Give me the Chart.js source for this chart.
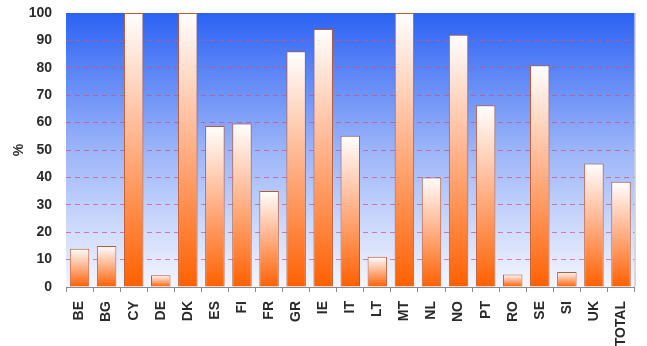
<!DOCTYPE html>
<html>
<head>
<meta charset="utf-8">
<script src="https://cdn.jsdelivr.net/npm/chart.js@4"></script>
<style>
  html, body { margin: 0; padding: 0; background: #fff; }
  #wrap { width: 647px; height: 346px; }
</style>
</head>
<body>
<div id="wrap"><canvas id="chart" width="647" height="346"></canvas></div>
<script>
var countries = ['BE', 'BG', 'CY', 'DE', 'DK', 'ES', 'FI', 'FR', 'GR', 'IE', 'IT',
                 'LT', 'MT', 'NL', 'NO', 'PT', 'RO', 'SE', 'SI', 'UK', 'TOTAL'];
var shares = [14, 15, 100, 4.3, 100, 58.8, 59.7, 35, 86, 94.2, 55.2,
              11, 100, 40, 92.1, 66.3, 4.6, 80.9, 5.5, 45.1, 38.4];
var yTicks = [0, 10, 20, 30, 40, 50, 60, 70, 80, 90, 100];

// blue-to-white fill behind the plot, grey frame on the right
var plotBackground = {
    id: 'plotBackground',
    beforeDraw: function (chart) {
        var a = chart.chartArea, c = chart.ctx;
        var g = c.createLinearGradient(0, a.top, 0, a.bottom);
        g.addColorStop(0, '#2c62f4');
        g.addColorStop(0.5, '#9cb5f9');
        g.addColorStop(1, '#f4f6fe');
        c.save();
        c.fillStyle = g;
        c.fillRect(a.left, a.top, a.right - a.left, a.bottom - a.top);
        c.restore();
    },
    afterDraw: function (chart) {
        var a = chart.chartArea, c = chart.ctx;
        c.save();
        c.strokeStyle = '#b8b8b8';
        c.lineWidth = 1;
        c.beginPath();
        c.moveTo(a.right + 0.5, a.top);
        c.lineTo(a.right + 0.5, a.bottom);
        c.stroke();
        c.restore();
    }
};

// each bar fades from orange at its base to white at its top
function barFill(context) {
    var chart = context.chart;
    if (!chart.chartArea) return '#ff6a10';
    var y = chart.scales.y;
    var top = y.getPixelForValue(context.raw);
    var bottom = y.getPixelForValue(0);
    if (bottom - top < 1) return '#ff6a10';
    var g = chart.ctx.createLinearGradient(0, top, 0, bottom);
    g.addColorStop(0, '#ffffff');
    g.addColorStop(0.45, '#ffb690');
    g.addColorStop(1, '#ff6000');
    return g;
}

var ctx = document.getElementById('chart').getContext('2d');
var myChart = new Chart(ctx, {
    type: 'bar',
    data: {
        labels: countries,
        datasets: [{
            data: shares,
            backgroundColor: barFill,
            borderColor: '#bb5a30',
            borderWidth: 1,
            borderSkipped: 'bottom',
            barPercentage: 0.72,
            categoryPercentage: 1
        }]
    },
    plugins: [plotBackground],
    options: {
        responsive: false,
        animation: false,
        layout: { padding: { left: 0, right: 8, top: 13, bottom: 0 } },
        plugins: {
            legend: { display: false },
            tooltip: { enabled: false }
        },
        scales: {
            x: {
                afterFit: function (axis) { axis.height = 59; },
                grid: {
                    offset: true,
                    drawOnChartArea: false,
                    color: '#8a8a8a',
                    tickLength: 5
                },
                border: { color: '#8a8a8a' },
                ticks: {
                    minRotation: 90,
                    maxRotation: 90,
                    autoSkip: false,
                    color: '#2a2a2a',
                    padding: 9,
                    font: { family: 'Liberation Sans', size: 14, weight: 'bold' }
                }
            },
            y: {
                min: 0,
                max: 100,
                afterFit: function (axis) { axis.width = 66; axis.paddingTop = 0; },
                afterBuildTicks: function (axis) {
                    axis.ticks = yTicks.map(function (v) { return { value: v }; });
                },
                grid: {
                    color: function (c) {
                        var v = c.tick ? c.tick.value : 0;
                        return (v === 0 || v === 100) ? 'rgba(0,0,0,0)' : 'rgba(205,80,130,0.7)';
                    },
                    drawTicks: false
                },
                border: { display: false, dash: [5, 4] },
                ticks: {
                    color: '#2a2a2a',
                    padding: 14,
                    font: { family: 'Liberation Sans', size: 14, weight: 'bold' }
                },
                title: {
                    display: true,
                    text: '%',
                    color: '#2a2a2a',
                    padding: { top: 11, bottom: 0 },
                    font: { family: 'Liberation Sans', size: 14, weight: 'bold' }
                }
            }
        }
    }
});
</script>
</body>
</html>
